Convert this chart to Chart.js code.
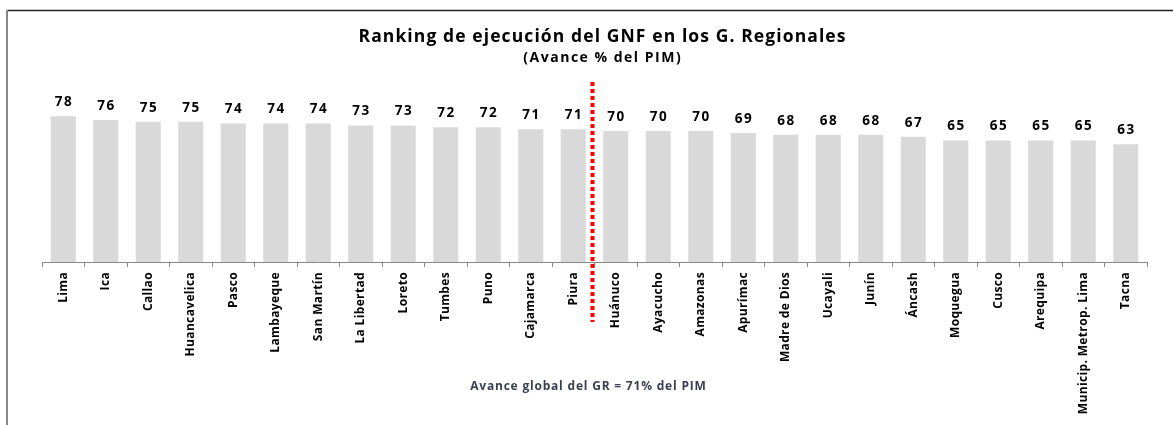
<!DOCTYPE html>
<html>
<head>
<meta charset="utf-8">
<script src="https://cdn.jsdelivr.net/npm/chart.js@4"></script>
<style>
html,body{margin:0;padding:0;background:#fff;}
#wrap{position:relative;width:1173px;height:425px;}
</style>
</head>
<body>
<div id="wrap"><canvas id="c" width="1173" height="425"></canvas></div>
<script>
const categories = ["Lima","Ica","Callao","Huancavelica","Pasco","Lambayeque","San Martín","La Libertad","Loreto","Tumbes","Puno","Cajamarca","Piura","Huánuco","Ayacucho","Amazonas","Apurímac","Madre de Dios","Ucayali","Junín","Áncash","Moquegua","Cusco","Arequipa","Municip. Metrop. Lima","Tacna"];
const values = [78,76,75,75,74,74,74,73,73,72,72,71,71,70,70,70,69,68,68,68,67,65,65,65,65,63];
const titleText = "Ranking de ejecución del GNF en los G. Regionales";
const subtitleText = "(Avance % del PIM)";
const footnoteText = "Avance global del GR = 71% del PIM";
const dividerAfterIndex = 12;

const FONT = "'Open Sans', 'Liberation Sans', sans-serif";

function spacedText(ctx, text, x, y, spacing) {
  ctx.letterSpacing = spacing + 'px';
  // compensate trailing spacing so the text stays centred
  ctx.fillText(text, x + spacing / 2, y);
  ctx.letterSpacing = '0px';
}

const decor = {
  id: 'decor',
  beforeDraw(chart) {
    const ctx = chart.ctx;
    ctx.save();
    ctx.fillStyle = '#fff';
    ctx.fillRect(0, 0, chart.width, chart.height);
    ctx.strokeStyle = '#222';
    ctx.lineWidth = 1.5;
    ctx.beginPath(); ctx.moveTo(7, 10.5); ctx.lineTo(chart.width, 10.5); ctx.stroke();
    ctx.strokeStyle = '#888';
    ctx.lineWidth = 2;
    ctx.beginPath(); ctx.moveTo(7, 10); ctx.lineTo(7, chart.height); ctx.stroke();
    ctx.restore();
    ctx.letterSpacing = '0.35px';
  },
  afterDatasetsDraw(chart) {
    const ctx = chart.ctx;
    const meta = chart.getDatasetMeta(0);
    const xs = chart.scales.x;
    ctx.save();
    ctx.fillStyle = '#000';
    ctx.textAlign = 'center';
    ctx.textBaseline = 'middle';
    ctx.font = "bold 17.5px " + FONT;
    spacedText(ctx, titleText, 602, 37, 1.1);
    ctx.font = "bold 14px " + FONT;
    spacedText(ctx, subtitleText, 602, 58, 1.5);
    ctx.font = "bold 13.5px " + FONT;
    meta.data.forEach((bar, i) => {
      spacedText(ctx, String(values[i]), bar.x, bar.y - 14, 1.5);
    });
    ctx.fillStyle = '#3a4050';
    ctx.font = "bold 12px " + FONT;
    spacedText(ctx, footnoteText, 588, 387, 0.8);
    const xd = (xs.getPixelForValue(dividerAfterIndex) + xs.getPixelForValue(dividerAfterIndex + 1)) / 2 - 2;
    ctx.strokeStyle = '#ff0000';
    ctx.lineWidth = 4;
    ctx.setLineDash([4, 3]);
    ctx.beginPath(); ctx.moveTo(xd, 82); ctx.lineTo(xd, 322); ctx.stroke();
    ctx.restore();
  }
};

new Chart(document.getElementById('c'), {
  type: 'bar',
  data: {
    labels: categories,
    datasets: [{
      data: values,
      backgroundColor: '#d9d9d9',
      borderWidth: 0,
      categoryPercentage: 1.0,
      barPercentage: 0.59
    }]
  },
  options: {
    responsive: false,
    animation: false,
    events: [],
    layout: { padding: { top: 75, left: 42, right: 26, bottom: 0 } },
    plugins: { legend: { display: false }, title: { display: false }, tooltip: { enabled: false } },
    scales: {
      y: { display: false, min: 0, max: 100 },
      x: {
        afterFit: s => { s.height = 163; },
        grid: { display: true, drawOnChartArea: false, tickLength: 5, color: '#888', offset: true },
        border: { display: true, color: '#888', width: 1 },
        ticks: {
          autoSkip: false, maxRotation: 90, minRotation: 90, padding: 5,
          color: '#000', font: { family: FONT, size: 12, weight: 'bold' }
        }
      }
    }
  },
  plugins: [decor]
});
</script>
</body>
</html>
